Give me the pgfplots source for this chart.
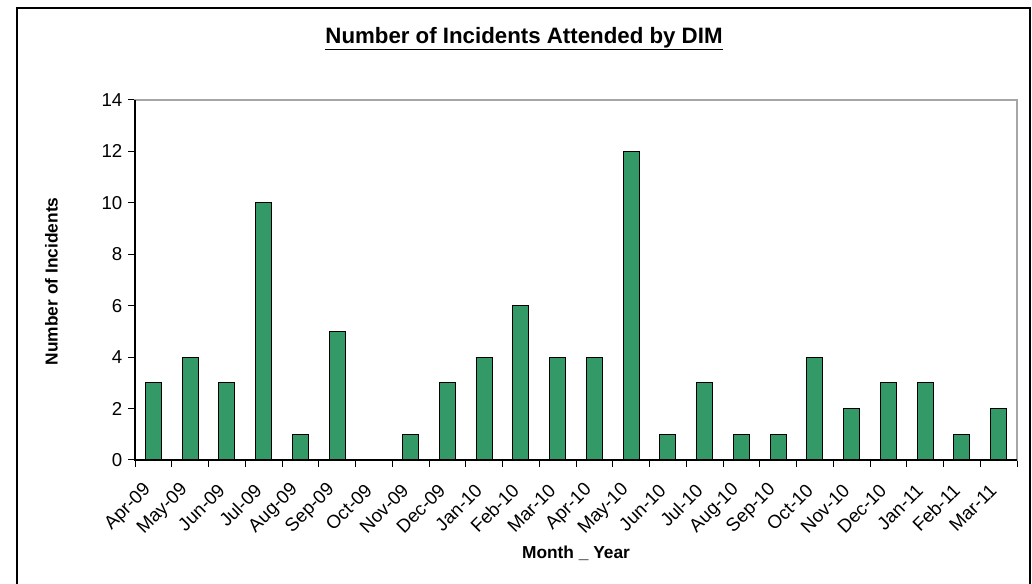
\documentclass[border=0pt]{standalone}
\usepackage{pgfplots}
\pgfplotsset{compat=1.18}
\usepackage{fontspec}
\setmainfont{Liberation Sans}
\definecolor{barg}{HTML}{339966}
\begin{document}
\begin{tikzpicture}
\useasboundingbox (0,0) rectangle (774pt,438pt);
\begin{axis}[
  at={(101.25pt,93pt)}, anchor=south west,
  scale only axis, width=661.5pt, height=270pt,
  ybar, bar width=12pt,
  xmin=-0.5, xmax=23.5, ymin=0, ymax=14,
  ytick={0,2,...,14},
  xtick={0,...,23},
  xticklabels={Apr-09,May-09,Jun-09,Jul-09,Aug-09,Sep-09,Oct-09,Nov-09,Dec-09,Jan-10,Feb-10,Mar-10,Apr-10,May-10,Jun-10,Jul-10,Aug-10,Sep-10,Oct-10,Nov-10,Dec-10,Jan-11,Feb-11,Mar-11},
  minor xtick={-0.5,0.5,...,23.5},
  major x tick style={draw=none},
  xtick pos=bottom, ytick pos=left,
  tick align=outside,
  major tick length=5pt, minor tick length=5pt,
  tick style={black, line width=0.75pt},
  axis line style={gray!70, line width=1.1pt},
  /pgf/number format/assume math mode=true,
  ticklabel style={font=\fontsize{14}{16}\selectfont},
  x tick label style={xshift=-1.5pt, yshift=-13pt, rotate=45, anchor=east},
  y tick label style={xshift=-1pt},
  clip=false,
]
\addplot[fill=barg, draw=black, line width=0.8pt] coordinates {
(0,3) (1,4) (2,3) (3,10) (4,1) (5,5) (6,0) (7,1) (8,3) (9,4) (10,6) (11,4)
(12,4) (13,12) (14,1) (15,3) (16,1) (17,1) (18,4) (19,2) (20,3) (21,3) (22,1) (23,2)
};
\draw[black, line width=0.9pt] (rel axis cs:0,1) -- (rel axis cs:0,0) -- (rel axis cs:1,0);
\end{axis}
\draw[line width=1.5pt] (12.75pt,0) -- (12.75pt,432pt) -- (772.5pt,432pt) -- (772.5pt,0);
\node at (393pt,409pt) {\fontsize{16.7}{19}\selectfont\bfseries\underline{Number of Incidents Attended by DIM}};
\node[rotate=90] at (38.5pt,227pt) {\fontsize{13}{15}\selectfont\bfseries Number of Incidents};
\node at (432pt,23.25pt) {\fontsize{13}{15}\selectfont\bfseries Month \_ Year};
\end{tikzpicture}
\end{document}
